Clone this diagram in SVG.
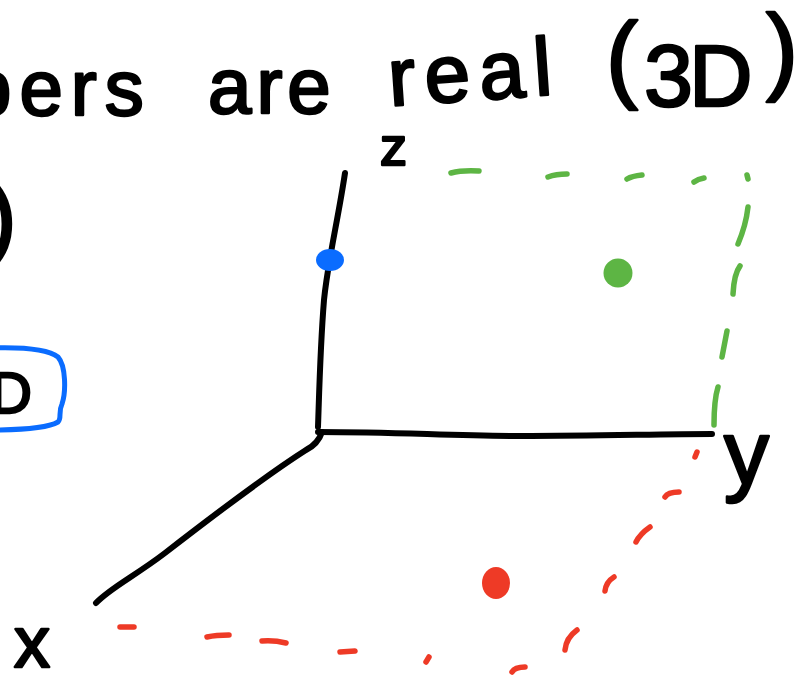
<svg xmlns="http://www.w3.org/2000/svg" width="810" height="676" viewBox="0 0 810 676">
<style>
.t{font-family:"Liberation Sans",Arial,sans-serif;fill:#000;stroke:#000;stroke-width:2.5;stroke-linejoin:round;}
.ax{fill:none;stroke:#000;stroke-width:6;stroke-linecap:round;stroke-linejoin:round;}
.g{fill:none;stroke:#5db544;stroke-width:5.5;stroke-linecap:round;}
.r{fill:none;stroke:#ee3a26;stroke-width:5.5;stroke-linecap:round;}
</style>
<rect width="810" height="676" fill="#fff"/>
<g id="title">
<text class="t" x="-32" y="115" font-size="78" letter-spacing="8">bers</text>
<text class="t" x="208" y="113" font-size="78" letter-spacing="5">are</text>
<text class="t" x="390" y="106" font-size="82" letter-spacing="9" transform="rotate(-4 390 106)">real</text>
<text class="t" stroke-width="1.5"><tspan x="606" y="90" font-size="96">(</tspan><tspan x="644" y="106" font-size="88" letter-spacing="-4">3D</tspan><tspan x="766" y="82" font-size="96">)</tspan></text>
</g>
<g id="left-fragments">
<text class="t" x="-14" y="248" font-size="92" stroke-width="1.5">)</text>
<path d="M-10 348 C20 347 48 349 58 357 C66 366 66 392 62 404 C58 412 62 418 58 422 C48 428 20 430 -10 430" fill="none" stroke="#0a6cff" stroke-width="5"/>
<text class="t" x="-10" y="413" font-size="58" stroke-width="1.5">D</text>
</g>
<g id="axes" class="connectors">
<path class="ax" d="M345 173 C338 220 328 260 324 300 C320 350 319 400 318 427"/>
<path class="ax" d="M318 432 C400 432 450 436 520 436 C600 436 660 434 712 434"/>
<path class="ax" d="M322 432 Q318 444 306 450 C262 478 205 522 165 553 C135 576 110 588 96 603"/>
</g>
<g id="green-plane" class="connectors">
<path class="g" d="M451 173 Q462 170 479 171"/>
<path class="g" d="M548 177 Q556 174 567 174"/>
<path class="g" d="M627 179 Q632 176 642 175"/>
<path class="g" d="M694 182 Q698 179 704 178"/>
<path class="g" d="M747 175 L748 179"/>
<path class="g" d="M748 207 Q746 225 738 244"/>
<path class="g" d="M740 266 Q734 274 733 294"/>
<path class="g" d="M727 331 L722 357"/>
<path class="g" d="M718 387 Q714 400 714 425"/>
</g>
<g id="red-plane" class="connectors">
<path class="r" d="M120 627 L134 627"/>
<path class="r" d="M207 637 Q216 635 229 635"/>
<path class="r" d="M262 641 Q274 640 286 643"/>
<path class="r" d="M340 652 L355 651"/>
<path class="r" d="M429 657 L426 662"/>
<path class="r" d="M512 672 Q515 667 525 667"/>
<path class="r" d="M565 650 Q566 638 577 630"/>
<path class="r" d="M605 591 Q606 582 614 577"/>
<path class="r" d="M636 542 Q640 534 650 527"/>
<path class="r" d="M665 497 Q668 492 679 492"/>
<path class="r" d="M695 457 L697 452"/>
</g>
<g id="points">
<ellipse id="blue-point" cx="330" cy="260" rx="14" ry="11" fill="#0a6cff"/>
<circle id="green-point" cx="618" cy="273" r="14.5" fill="#5db544"/>
<ellipse id="red-point" cx="496" cy="583" rx="14" ry="16" fill="#ee3a26"/>
</g>
<g id="labels">
<text class="t" x="380" y="165" font-size="54">z</text>
<text class="t" x="724" y="484" font-size="90" stroke-width="2">y</text>
<text class="t" x="14" y="667" font-size="72" stroke-width="2">x</text>
</g>
</svg>
